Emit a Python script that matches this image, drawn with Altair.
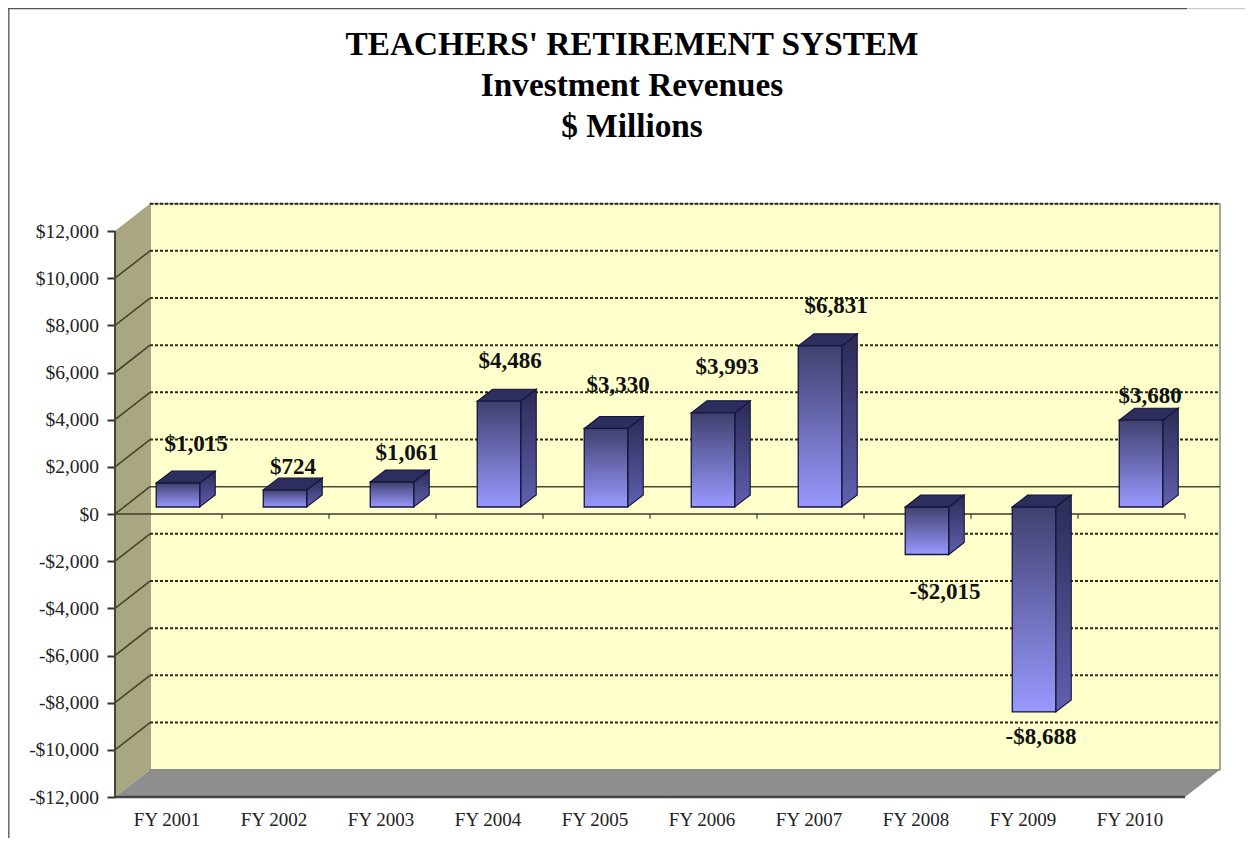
import altair as alt
import pandas as pd

title_lines = ["TEACHERS' RETIREMENT SYSTEM", "Investment Revenues", "$ Millions"]
categories = ["FY 2001", "FY 2002", "FY 2003", "FY 2004", "FY 2005",
              "FY 2006", "FY 2007", "FY 2008", "FY 2009", "FY 2010"]
values = [1015, 724, 1061, 4486, 3330, 3993, 6831, -2015, -8688, 3680]
value_labels = ["$1,015", "$724", "$1,061", "$4,486", "$3,330",
                "$3,993", "$6,831", "-$2,015", "-$8,688", "$3,680"]
tick_values = list(range(-12000, 12001, 2000))

# layout of the pseudo-3D box, in pixels per unit
PX_PER_CAT = 107.0
PX_PER_USD = 566 / 24000
W, H = 1106, 593
x_top = W / PX_PER_CAT
y_top = -12000 + H / PX_PER_USD
WALL_DX = 35 / PX_PER_CAT
WALL_DY = 27.3 / PX_PER_USD
BAR_W = 43.5 / PX_PER_CAT
BAR_OFF_X = 9.5 / PX_PER_CAT
BAR_OFF_Y = 7 / PX_PER_USD
DEPTH_X = 15.5 / PX_PER_CAT
DEPTH_Y = 12 / PX_PER_USD
# hand placement of the value labels in the reference (px from bar centre / bar end)
label_nudge_x = [27.5, 17.5, 24.5, 20.5, 21.5, 23.5, 25.5, 27.5, 16.5, 18.5]
label_nudge_y = [39, 23, 29, 40, 43.5, 46, 40, -37.5, -25, 24]

FONT = "Liberation Serif"
xs = alt.Scale(domain=[0, x_top], nice=False, zero=False)
ys = alt.Scale(domain=[-12000, y_top], nice=False, zero=False)

sign_fmt = "(datum.value < 0 ? '-' : '') + '$' + format(abs(datum.value), ',')"
cat_js = "[" + ",".join(f"'{c}'" for c in categories) + "]"
x_axis = alt.Axis(
    orient="bottom", values=[i + 0.5 for i in range(10)], labelExpr=f"{cat_js}[floor(datum.value)]",
    ticks=False, domain=False, grid=False, labelFont=FONT, labelFontSize=19, labelColor="#222222",
    labelPadding=13, labelOffset=-2, labelAlign="center", labelBaseline="top", title=None)
y_axis = alt.Axis(
    orient="left", values=tick_values, labelExpr=sign_fmt, domain=False, grid=False,
    tickColor="#333333", tickWidth=2, tickSize=8, labelPadding=8.5,
    labelFont=FONT, labelFontSize=19.5, labelColor="#222222", title=None)


def X(field="x"):
    return alt.X(f"{field}:Q", scale=xs, axis=x_axis)


def Y(field="y"):
    return alt.Y(f"{field}:Q", scale=ys, axis=y_axis)


X2 = alt.X2("x2:Q")
Y2 = alt.Y2("y2:Q")

# walls and floor
back = alt.Chart(pd.DataFrame([dict(x=WALL_DX, x2=WALL_DX + 10, y=-12000 + WALL_DY, y2=12000 + WALL_DY)])).mark_rect(
    fill="#FFFFCC", stroke="#8a8a80", strokeWidth=1.5).encode(x=X(), x2=X2, y=Y(), y2=Y2)
left = alt.Chart(pd.DataFrame([
    dict(x=0, y=-12000, y2=12000),
    dict(x=WALL_DX, y=-12000 + WALL_DY, y2=12000 + WALL_DY)])).mark_area(
    fill="#A9A782", opacity=1).encode(x=X(), y=Y(), y2=Y2)
floor = alt.Chart(pd.DataFrame([
    dict(y=-12000, x=0, x2=10),
    dict(y=-12000 + WALL_DY, x=WALL_DX, x2=WALL_DX + 10)])).mark_area(
    fill="#8E8E8E", opacity=1, orient="horizontal").encode(y=Y(), x=X(), x2=X2)

# gridlines
grid_levels = [v for v in tick_values if v != 0 and v != -12000]
grid_back = alt.Chart(pd.DataFrame([dict(x=WALL_DX, x2=WALL_DX + 10, y=v + WALL_DY) for v in grid_levels])).mark_rule(
    color="#2b2b1c", strokeWidth=2, strokeDash=[3, 2]).encode(x=X(), x2=X2, y=Y())
zero_back = alt.Chart(pd.DataFrame([dict(x=WALL_DX, x2=WALL_DX + 10, y=WALL_DY)])).mark_rule(
    color="#4a4a30", strokeWidth=1.6).encode(x=X(), x2=X2, y=Y())
side_rows = []
for v in tick_values:
    if v == -12000 or v == 12000:
        continue
    side_rows += [dict(k=v, x=0, y=v), dict(k=v, x=WALL_DX, y=v + WALL_DY)]
grid_side = alt.Chart(pd.DataFrame(side_rows)).mark_line(color="#45452c", strokeWidth=1.6).encode(
    x=X(), y=Y(), detail="k:N")

y_line = alt.Chart(pd.DataFrame([dict(x=0, y=-12000, y2=12000)])).mark_rule(color="#44442f", strokeWidth=2).encode(
    x=X(), y=Y(), y2=Y2)
x_floor = alt.Chart(pd.DataFrame([dict(x=0, x2=10, y=-12000)])).mark_rule(color="#444444", strokeWidth=2.4).encode(
    x=X(), x2=X2, y=Y())
zero_line = alt.Chart(pd.DataFrame([dict(x=0, x2=10, y=0)])).mark_rule(color="#3a3a28", strokeWidth=1.4).encode(
    x=X(), x2=X2, y=Y())
zero_ticks = alt.Chart(pd.DataFrame([dict(x=i, y=0, y2=-200) for i in range(1, 11)])).mark_rule(
    color="#3a3a28", strokeWidth=1.2).encode(x=X(), y=Y(), y2=Y2)

# bars
front_rows, side_rows, top_rows = [], [], []
for i, v in enumerate(values):
    x0 = i + 0.5 + BAR_OFF_X - BAR_W / 2
    x1 = x0 + BAR_W
    hi = max(v, 0) + BAR_OFF_Y
    lo = min(v, 0) + BAR_OFF_Y
    front_rows.append(dict(x=x0, x2=x1, y=hi, y2=lo))
    side_rows += [dict(k=i, x=x1, y=hi, y2=lo), dict(k=i, x=x1 + DEPTH_X, y=hi + DEPTH_Y, y2=lo + DEPTH_Y)]
    top_rows += [dict(k=i, y=hi, x=x0, x2=x1), dict(k=i, y=hi + DEPTH_Y, x=x0 + DEPTH_X, x2=x1 + DEPTH_X)]

EDGE = "#14143c"
front_grad = alt.Gradient(gradient="linear", x1=0, y1=0, x2=0, y2=1, stops=[
    alt.GradientStop(color="#40406F", offset=0), alt.GradientStop(color="#9999FF", offset=1)])
side_grad = alt.Gradient(gradient="linear", x1=0, y1=0, x2=0, y2=1, stops=[
    alt.GradientStop(color="#2B2B55", offset=0), alt.GradientStop(color="#6060B0", offset=1)])
bar_front = alt.Chart(pd.DataFrame(front_rows)).mark_rect(
    color=front_grad, stroke=EDGE, strokeWidth=1.3).encode(x=X(), x2=X2, y=Y(), y2=Y2)
bar_side = alt.Chart(pd.DataFrame(side_rows)).mark_area(
    color=side_grad, stroke=EDGE, strokeWidth=1.1, opacity=1).encode(x=X(), y=Y(), y2=Y2, detail="k:N")
bar_top = alt.Chart(pd.DataFrame(top_rows)).mark_area(
    fill="#2E2E5E", stroke=EDGE, strokeWidth=1.1, opacity=1, orient="horizontal").encode(
    y=Y(), x=X(), x2=X2, detail="k:N")

# value labels
lab = pd.DataFrame({
    "t": value_labels,
    "x": [i + 0.5 + nx / PX_PER_CAT for i, nx in enumerate(label_nudge_x)],
    "y": [(max(v, 0) if v > 0 else v) + BAR_OFF_Y + ny / PX_PER_USD for v, ny in zip(values, label_nudge_y)],
})
labels = alt.Chart(lab).mark_text(font=FONT, fontWeight="bold", fontSize=23, color="#111111").encode(
    x=X(), y=Y(), text="t:N")

# page frame
frame_left = alt.Chart(pd.DataFrame([{"a": 1}])).mark_rule(color="#666666", strokeWidth=1.5).encode(
    x=alt.value(-106.2), y=alt.value(-196), y2=alt.value(H + 41))
frame_top = alt.Chart(pd.DataFrame([{"a": 1}])).mark_rule(color="#555555", strokeWidth=1.2).encode(
    x=alt.value(-107), x2=alt.value(1072), y=alt.value(-195.4))
frame_top2 = alt.Chart(pd.DataFrame([{"a": 1}])).mark_rule(color="#cccccc", strokeWidth=1.2).encode(
    x=alt.value(1072), x2=alt.value(1130), y=alt.value(-195.4))

chart = alt.layer(
    back, left, floor, grid_back, zero_back, grid_side, y_line, x_floor, zero_line, zero_ticks,
    bar_side, bar_top, bar_front, labels,
    frame_left, frame_top, frame_top2,
).properties(
    width=W, height=H,
    autosize="none",
    padding={"left": 107, "top": 196, "right": 24, "bottom": 42},
    title=alt.TitleParams(text=title_lines, font=FONT, fontSize=33.3, fontWeight="bold", color="#000000",
                          lineHeight=41, anchor="middle", dx=-36, offset=-170, baseline="bottom"),
).configure_view(stroke=None).configure_axis(labelOverlap=False)

chart.save("out.html", embed_options={"renderer": "svg", "actions": False})
